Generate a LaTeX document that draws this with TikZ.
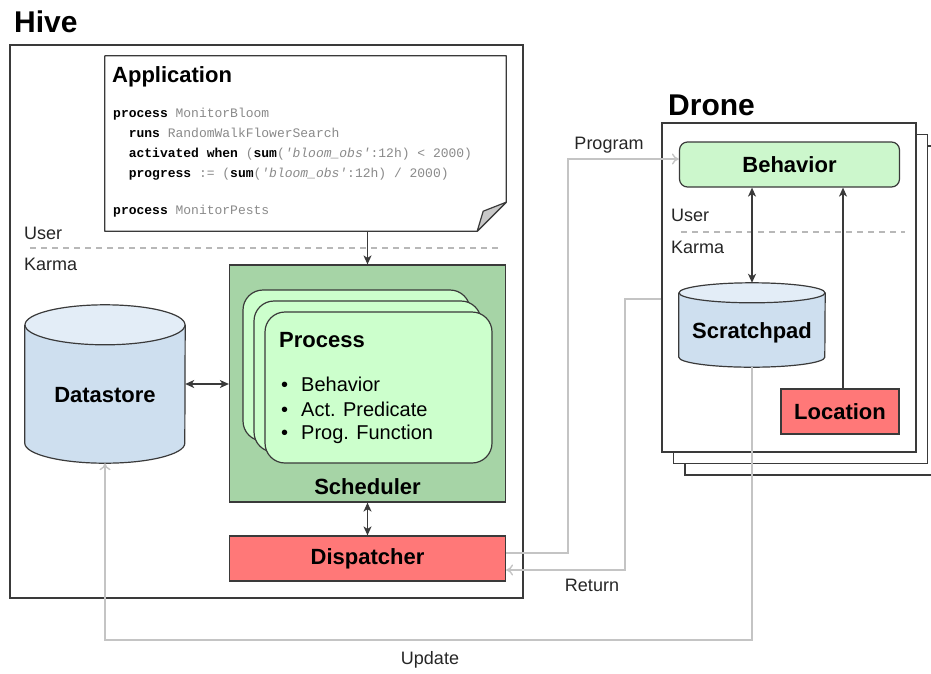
\documentclass[tikz,border=0pt]{standalone}
\usepackage{fontspec}
\setmainfont{Liberation Sans}
\setmonofont{Liberation Mono}
\usetikzlibrary{arrows.meta,positioning}

\definecolor{linecol}{HTML}{3A3A3A}
\definecolor{wiregray}{HTML}{C4C4C4}
\definecolor{dashgray}{HTML}{B8B8B8}
\definecolor{codegray}{HTML}{8A8A8A}
\definecolor{foldgray}{HTML}{C8C8C8}
\definecolor{schedgreen}{HTML}{A6D4A6}
\definecolor{cardgreen}{HTML}{CCFFCC}
\definecolor{behgreen}{HTML}{CCF7CC}
\definecolor{redfill}{HTML}{FF7878}
\definecolor{storebody}{HTML}{CEDFEF}
\definecolor{storetop}{HTML}{E3EDF7}

% keywords of the program text
\newcommand{\kw}[1]{\textcolor{black}{\bfseries #1}}

\begin{document}
\begin{tikzpicture}[x=1pt,y=-1pt,font=\fontsize{18}{20}\selectfont]
\tikzset{
% boxes
box/.style={draw=linecol,line width=1.2pt},
redbox/.style={box,fill=redfill,font=\fontsize{22}{24}\selectfont\bfseries},
card/.style={box,fill=cardgreen,rounded corners=20pt,minimum width=227,minimum height=151},
store/.style={inner sep=0},
% texts
title/.style={inner sep=0,font=\fontsize{30}{32}\selectfont\bfseries},
head/.style={inner sep=0,font=\fontsize{22}{24}\selectfont\bfseries},
item/.style={inner sep=0,font=\fontsize{20}{22}\selectfont},
layer/.style={inner sep=0,text=black!85},
code/.style={inner sep=0,align=left,text=codegray,font=\fontsize{13}{20}\selectfont\ttfamily}
}
% Connectors
\tikzstyle arr=[draw=linecol,line width=1.3pt,-{Stealth[length=9pt,width=8pt,inset=2.5pt]}]
\tikzstyle arr2=[draw=linecol,line width=1.3pt,{Stealth[length=9pt,width=8pt,inset=2.5pt]}-{Stealth[length=9pt,width=8pt,inset=2.5pt]}]
\tikzstyle wire=[draw=wiregray,line width=1.4pt,-{To[length=7pt,width=11pt]}]
\tikzstyle divider=[draw=dashgray,line width=1.2pt,dash pattern=on 6pt off 5pt]

\useasboundingbox (0,0) rectangle (931,673);

% The Hive
\node[title,anchor=west] (hivetitle) at (14,22) {Hive};
\node[box,fill=white,minimum width=513,minimum height=553] (hive) at (266.5,321.5) {};

\node[layer,anchor=west] (user1) at (24,233) {User};
\node[layer,anchor=west] (karma1) at (24,264) {Karma};
\draw[divider] (30,248) -- (500,248);

% Application note with folded corner
\node[inner sep=0,minimum width=401,minimum height=175] (app) at (305.5,143.5) {};
\draw[box,fill=white,line join=round] (app.north west) -- (app.north east) -- ([yshift=29]app.south east)
  -- ([xshift=-29]app.south east) -- (app.south west) -- cycle;
\draw[box,fill=foldgray,line join=round] ([yshift=29]app.south east) -- ([xshift=-29]app.south east)
  -- ([xshift=-23,yshift=20]app.south east) -- cycle;
\node[head,anchor=west] (apptitle) at (112,77) {Application};
\node[code,anchor=north west] (program) at (113,108) {%
\kw{process} MonitorBloom\\
~~\kw{runs} RandomWalkFlowerSearch\\
~~\kw{activated when} (\kw{sum}(\textit{'bloom\_obs'}:12h) < 2000)\\
~~\kw{progress} := (\kw{sum}(\textit{'bloom\_obs'}:12h) / 2000)\\[17pt]
\kw{process} MonitorPests};

% Scheduler with the process cards
\node[box,fill=schedgreen,minimum width=276,minimum height=237] (sched) at (367.5,383.5) {};
\node[head] (schedlabel) at (367.5,487) {Scheduler};
\foreach \i/\d in {1/0,2/11,3/22}
  \node[card] (card\i) at (356.5+\d,365.5+\d) {};
\node[head,anchor=west] (proctitle) at (279,340) {Process};
\foreach \t [count=\k] in {Behavior,Act. Predicate,Prog. Function}
  \node[item,anchor=west] (item\k) at (281,359+25*\k) {\makebox[20pt][l]{\textbullet}\t};

\node[redbox,minimum width=276,minimum height=45] (disp) at (367.5,558.5) {Dispatcher};

% Datastore
\node[store,minimum width=160,minimum height=158] (ds) at (105,384) {};

% The Drone
\node[title,anchor=west] (dronetitle) at (668,105) {Drone};
\foreach \d in {23,11.5}
  \node[box,fill=white,minimum width=254,minimum height=329] (stack\d) at (789+\d,287.5+\d) {};
\node[box,fill=white,minimum width=254,minimum height=329] (drone) at (789,287.5) {};

\node[box,fill=behgreen,rounded corners=8pt,minimum width=220,minimum height=45,
  font=\fontsize{22}{24}\selectfont\bfseries] (beh) at (789.5,164.5) {Behavior};
\node[layer,anchor=west] (user2) at (671,215) {User};
\node[layer,anchor=west] (karma2) at (671,247) {Karma};
\draw[divider] (681,232) -- (905,232);

\node[store,minimum width=146,minimum height=84] (sp) at (752,325) {};
\node[redbox,minimum width=118,minimum height=45] (loc) at (840,411.5) {Location};

% Cylinders
\foreach \n/\rx/\ry in {ds/80/20,sp/73/10}{
  \fill[storebody] ([yshift=-\ry]\n.north west) -- ([yshift=\ry]\n.south west)
    arc[start angle=180,end angle=360,x radius=\rx pt,y radius=\ry pt] -- ([yshift=-\ry]\n.north east) -- cycle;
  \draw[box] ([yshift=-\ry]\n.north west) -- ([yshift=\ry]\n.south west)
    arc[start angle=180,end angle=360,x radius=\rx pt,y radius=\ry pt] -- ([yshift=-\ry]\n.north east);
  \draw[box,fill=storetop] ([yshift=-\ry]\n.north) ellipse[x radius=\rx pt,y radius=\ry pt];
}
\node[head] (dslabel) at (105,395) {Datastore};
\node[head] (splabel) at (752,333) {Scratchpad};

% Connections
\coordinate (locout) at ([xshift=3]loc.north);
\draw[arr] (sched.north |- app.south) -- (sched.north);
\draw[arr2] (ds.east) -- (sched.west |- ds.east);
\draw[arr2] (sched.south) -- (disp.north);
\draw[arr2] (beh.south -| sp.north) -- (sp.north);
\draw[arr] (locout) -- (beh.south -| locout);

\coordinate (progbend) at (568,159);
\coordinate (retbend) at (625,570);
\coordinate (updbend) at (105,640);
\draw[wire] ([yshift=5.5]disp.east) -| (progbend) -- (progbend -| beh.west);
\draw[wire] ([yshift=-11.5]drone.west) -| (retbend) -- (retbend -| disp.east);
\draw[wire] (sp.south) |- (updbend) -- (ds.south);
\node[layer] (proglabel) at (609,145) {Program};
\node[layer] (retlabel) at (592,585) {Return};
\node[layer] (updlabel) at (430,660) {Update};
\end{tikzpicture}
\end{document}
